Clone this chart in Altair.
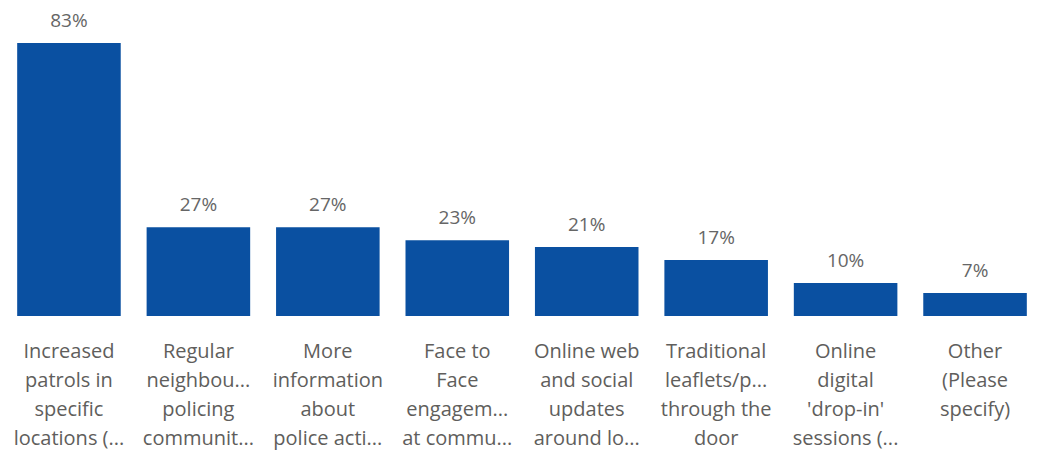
import altair as alt
import pandas as pd

categories = [
    "Increased|patrols in|specific|locations (...",
    "Regular|neighbou...|policing|communit...",
    "More|information|about|police acti...",
    "Face to|Face|engagem...|at commu...",
    "Online web|and social|updates|around lo...",
    "Traditional|leaflets/p...|through the|door",
    "Online|digital|'drop-in'|sessions (...",
    "Other|(Please|specify)",
]
values = [83, 27, 27, 23, 21, 17, 10, 7]
labels = ["83%", "27%", "27%", "23%", "21%", "17%", "10%", "7%"]

df = pd.DataFrame({"cat": categories, "val": values, "lab": labels})

FONT = "Segoe UI, Open Sans, sans-serif"

x = alt.X(
    "cat:N",
    sort=categories,
    title=None,
    scale=alt.Scale(paddingInner=0.2, paddingOuter=0.04),
    axis=alt.Axis(
        labelExpr="split(datum.label, '|')",
        labelAngle=0,
        labelFontSize=20,
        labelFont=FONT,
        labelColor="#605e5c",
        labelLineHeight=29,
        labelPadding=25,
        labelBaseline="top",
        ticks=False,
        domain=False,
        grid=False,
        labelLimit=200,
    ),
)
y = alt.Y("val:Q", title=None, scale=alt.Scale(domain=[0, 83], nice=False), axis=None)

bars = alt.Chart(df).mark_bar(color="#0a50a1").encode(x=x, y=y)
text = alt.Chart(df).mark_text(
    dy=-22, baseline="middle", fontSize=19, font=FONT, color="#666666"
).encode(x=x, y=y, text="lab:N")

chart = (
    (bars + text)
    .properties(
        width=1020,
        height=273,
        padding={"left": 4, "top": 35, "right": 0, "bottom": 134},
        autosize=alt.AutoSizeParams(type="none"),
    )
    .configure(background="white")
    .configure_view(stroke="transparent", strokeWidth=0)
)

chart.save("out.html", embed_options={"renderer": "svg", "actions": False})
